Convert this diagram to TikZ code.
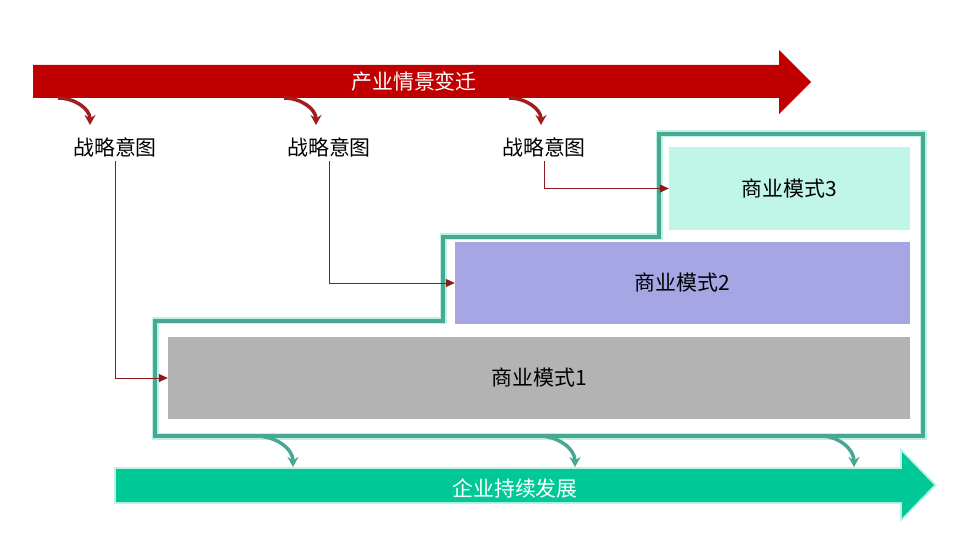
\documentclass[tikz,border=0pt]{standalone}
\usepackage{fontspec}
\setmainfont{Noto Sans CJK SC}
\usetikzlibrary{arrows.meta}
\definecolor{flowred}{RGB}{192,0,0}
\definecolor{curvered}{RGB}{160,30,30}
\definecolor{linered}{RGB}{140,26,26}
\definecolor{frameteal}{RGB}{72,168,148}
\definecolor{growteal}{RGB}{0,200,150}
\definecolor{mintfill}{RGB}{192,246,232}
\definecolor{lavfill}{RGB}{166,166,228}
\definecolor{grayfill}{RGB}{179,179,179}
\tikzset{
    mynode/.style={font=\fontsize{21}{24}\selectfont, inner sep=1bp},
    modelbox/.style={mynode, minimum height=82bp},
    intentline/.style={-{Triangle[length=9bp,width=8bp]}, draw=linered, line width=0.8bp},
    bendarrow/.style={-{Stealth[length=10bp,width=11bp]}, line width=3.5bp}
}

\begin{document}
\begin{tikzpicture}[x=1bp,y=-1bp]
        \useasboundingbox (0,0) rectangle (957,538);
        % big arrows
        \fill[flowred] (33,65) -- (779,65) -- (779,50) -- (811,82) -- (779,114) -- (779,98) -- (33,98) -- cycle; % top
        \node[mynode,text=white] (scene) at (414,82) {产业情景变迁};

        \fill[growteal!25] (114,467) -- (900,467) -- (900,448) -- (937,485) -- (900,522) -- (900,504) -- (114,504) -- cycle;
        \fill[growteal] (116,469) -- (902,469) -- (902,452) -- (934,485) -- (902,518) -- (902,502) -- (116,502) -- cycle; % bottom
        \node[mynode,text=white] (growth) at (515,488) {企业持续发展};

        % stepped frame
        \draw[growteal!25,line width=7bp] (155,436) -- (155,321) -- (443,321) -- (443,237) -- (659,237) -- (659,134) -- (923,134) -- (923,436) -- cycle;
        \draw[frameteal,line width=4bp] (155,436) -- (155,321) -- (443,321) -- (443,237) -- (659,237) -- (659,134) -- (923,134) -- (923,436) -- cycle;

        % business models
        \node[modelbox,fill=grayfill,minimum width=742bp] (bm1) at (539,378) {商业模式1};
        \node[modelbox,fill=lavfill,minimum width=455bp] (bm2) at (682.5,283) {商业模式2};
        \node[modelbox,fill=mintfill,minimum width=241bp,minimum height=83bp] (bm3) at (789.5,188.5) {商业模式3};

        % intents
        \node[mynode] (intent1) at (115,147) {战略意图};
        \node[mynode] (intent2) at (329,147) {战略意图};
        \node[mynode] (intent3) at (544,147) {战略意图};

        \coordinate (r1) at (58,98);   \coordinate (s1) at (90,125);
        \coordinate (r2) at (284,98);  \coordinate (s2) at (316,125);
        \coordinate (r3) at (509,98);  \coordinate (s3) at (541,125);
        \coordinate (t1) at (256,436); \coordinate (u1) at (293,467);
        \coordinate (t2) at (539,436); \coordinate (u2) at (575,467);
        \coordinate (t3) at (821,436); \coordinate (u3) at (854,467);

        %arrows
        \draw[bendarrow,curvered] (r1) to[out=0,in=90] (s1);
        \draw[bendarrow,curvered] (r2) to[out=0,in=90] (s2);
        \draw[bendarrow,curvered] (r3) to[out=0,in=90] (s3);
        \draw[bendarrow,frameteal] (t1) to[out=0,in=90] (u1);
        \draw[bendarrow,frameteal] (t2) to[out=0,in=90] (u2);
        \draw[bendarrow,frameteal] (t3) to[out=0,in=90] (u3);

        \draw[intentline] ([yshift=-3bp]intent1.south) |- (bm1.west);
        \draw[intentline] ([yshift=-3bp]intent2.south) |- (bm2.west);
        \draw[intentline] ([yshift=-3bp]intent3.south) |- (bm3.west);
\end{tikzpicture}
\end{document}
